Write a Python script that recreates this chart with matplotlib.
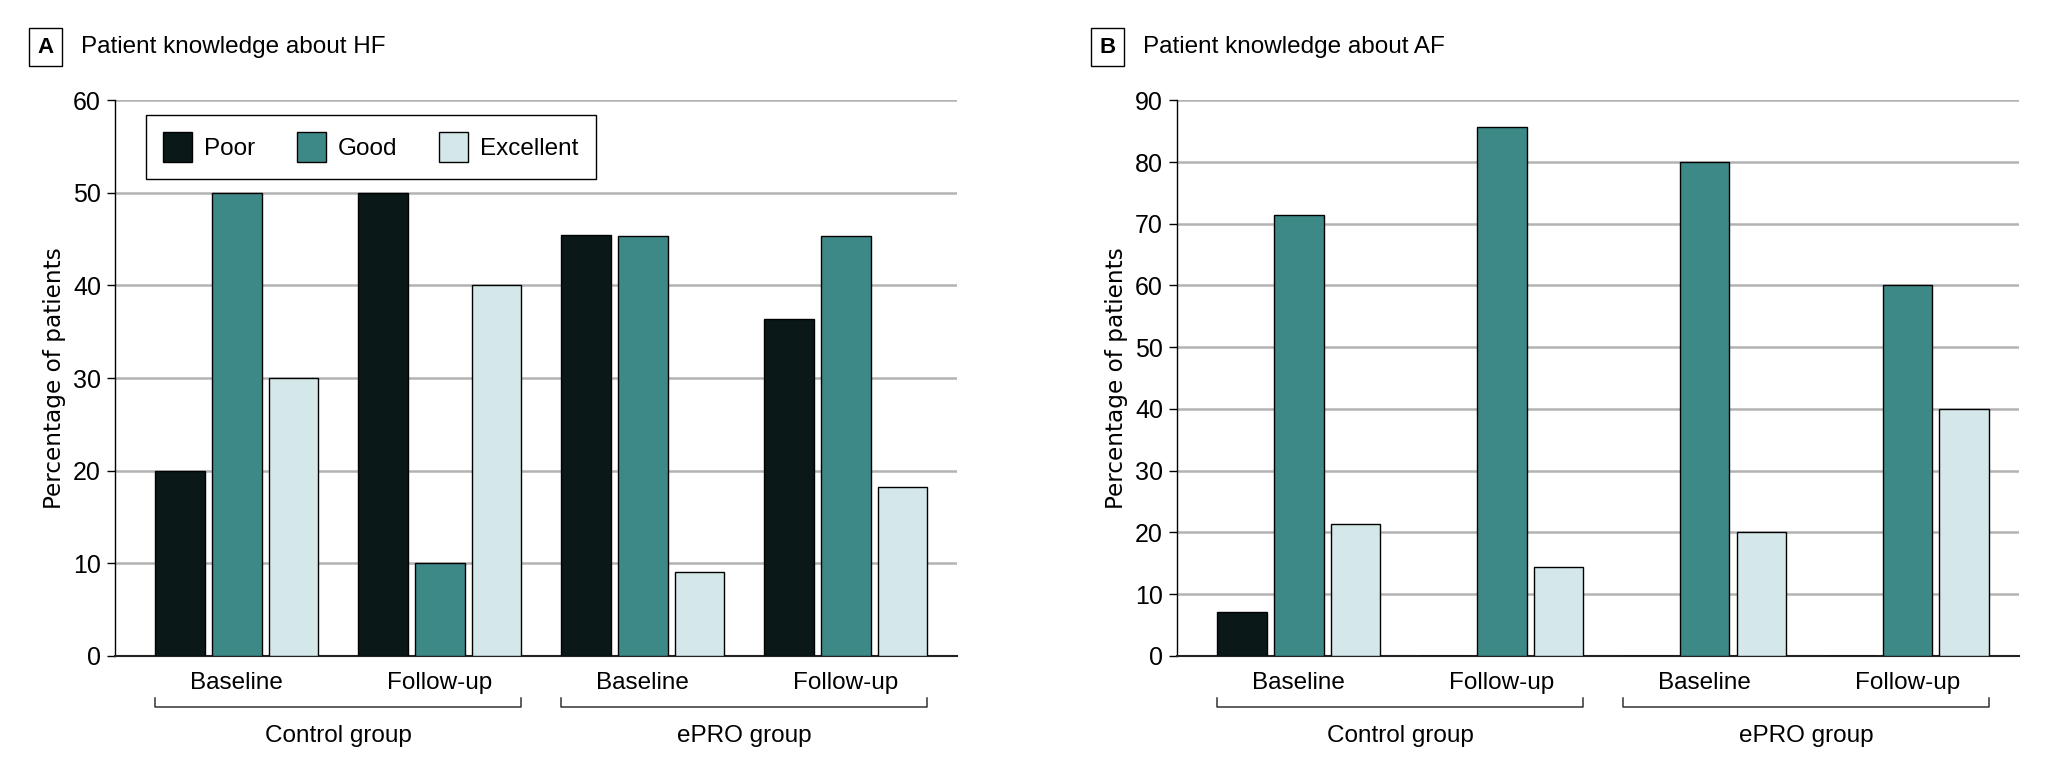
import matplotlib
matplotlib.use("Agg")
import matplotlib.pyplot as plt
import matplotlib.transforms as mtransforms
import numpy as np

# data
timepoints = ["Baseline", "Follow-up", "Baseline", "Follow-up"]
groups = ["Control group", "ePRO group"]
levels = ["Poor", "Good", "Excellent"]

hf_poor = [20.0, 50.0, 45.5, 36.4]
hf_good = [50.0, 10.0, 45.4, 45.4]
hf_excellent = [30.0, 40.0, 9.1, 18.2]

af_poor = [7.1, 0.0, 0.0, 0.0]
af_good = [71.4, 85.7, 80.0, 60.0]
af_excellent = [21.4, 14.3, 20.0, 40.0]

colors = ["#0a1818", "#3d8988", "#d4e8ea"]
narrow = ["Liberation Sans Narrow", "Liberation Sans", "DejaVu Sans"]


def draw_panel(ax, series, ymax, letter, title, legend=False):
	x = np.arange(len(timepoints))
	w = 0.245
	off = 0.28
	for i, vals in enumerate(series):
		ax.bar(x + (i - 1) * off, vals, w, color=colors[i], edgecolor="black",
			linewidth=1.0, label=levels[i], zorder=3)

	ax.set_xlim(-0.6, 3.55)
	ax.set_ylim(0, ymax)
	ax.set_yticks(np.arange(0, ymax + 1, 10))
	ax.yaxis.grid(True, color="#b3b3b3", linewidth=1.8, zorder=0)
	ax.set_axisbelow(True)
	for s in ["top", "right"]:
		ax.spines[s].set_visible(False)
	ax.spines["left"].set_linewidth(1.0)
	ax.spines["bottom"].set_linewidth(1.5)
	ax.spines["bottom"].set_color("#222222")
	ax.tick_params(axis="y", length=6, width=1.0, pad=4, labelsize=18)
	ax.tick_params(axis="x", length=0, pad=12, labelsize=17.5)
	for lab in ax.get_yticklabels():
		lab.set_family(narrow)
	ax.set_xticks(x, timepoints, family=narrow)
	ax.set_ylabel("Percentage of patients", fontsize=16.7, family="DejaVu Sans", labelpad=5)

	# group brackets under the tick labels
	trans = mtransforms.blended_transform_factory(ax.transData, ax.transAxes)
	for g, name in enumerate(groups):
		x0 = x[2 * g] - off - w / 2
		x1 = x[2 * g + 1] + off + w / 2
		ax.plot([x0, x0, x1, x1], [-0.076, -0.092, -0.092, -0.076], color="#333333",
			linewidth=1.1, transform=trans, clip_on=False)
		ax.text((x[2 * g] + x[2 * g + 1]) / 2, -0.145, name, transform=trans,
			ha="center", va="center", fontsize=17.5, family=narrow)

	# panel letter + title
	bb = ax.get_position()
	fig = ax.figure
	fig.text(bb.x0 - 0.034, 0.939, letter, ha="center", va="center", fontsize=16, fontweight="bold",
		family=narrow, bbox=dict(boxstyle="square,pad=0.38", fc="white", ec="black", lw=1.0))
	fig.text(bb.x0 - 0.0165, 0.939, title, ha="left", va="center", fontsize=17.5, family=narrow)

	if legend:
		ax.legend(loc="upper left", bbox_to_anchor=(0.037, 0.973), borderaxespad=0,
			ncol=3, fancybox=False, edgecolor="black", framealpha=1,
			prop=dict(family=narrow, size=17.5), handlelength=1.2, handleheight=1.5,
			columnspacing=1.7, handletextpad=0.5, borderpad=0.7)
		ax.get_legend().get_frame().set_linewidth(1.0)


fig = plt.figure(figsize=(20.48, 7.72), dpi=100)
ax_a = fig.add_axes([0.0561, 0.1506, 0.4114, 0.7194])
ax_b = fig.add_axes([0.5747, 0.1506, 0.4112, 0.7194])

draw_panel(ax_a, [hf_poor, hf_good, hf_excellent], 60, "A", "Patient knowledge about HF", legend=True)
draw_panel(ax_b, [af_poor, af_good, af_excellent], 90, "B", "Patient knowledge about AF")

fig.savefig("out.png", dpi=100, facecolor="white")
